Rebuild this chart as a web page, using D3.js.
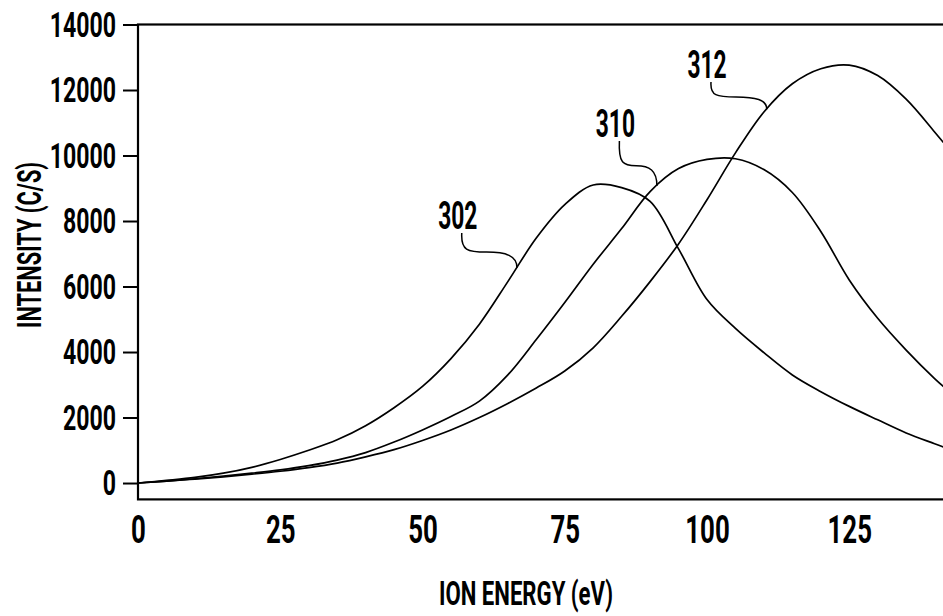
<!DOCTYPE html>
<html>
<head>
<meta charset="utf-8">
<script src="https://cdn.jsdelivr.net/npm/d3@7"></script>
<style>
  body { margin: 0; background: #fff; }
  svg { display: block; }
  text { font-family: Roboto, "DejaVu Sans", sans-serif; font-weight: 700; fill: #000; }
</style>
</head>
<body>
<svg id="chart" width="943" height="616"></svg>
<script>
// values (eV, counts/s)
const energy   = [0, 5, 10, 15, 20, 25, 30, 35, 40, 45, 50, 55, 60, 65, 70, 75, 80, 85, 90, 95, 100, 105, 110, 115, 120, 125, 130, 135, 140, 142]
const curve302 = [0, 80, 170, 300, 480, 720, 1000, 1320, 1750, 2300, 2950, 3800, 4850, 6150, 7480, 8500, 9100, 9020, 8600, 7150, 5600, 4720, 3980, 3300, 2790, 2340, 1930, 1530, 1200, 1070]
const curve310 = [0, 60, 130, 210, 300, 400, 530, 700, 930, 1250, 1620, 2030, 2500, 3300, 4380, 5510, 6680, 7770, 8900, 9600, 9880, 9900, 9570, 8870, 7680, 6200, 5030, 4060, 3190, 2880]
const curve312 = [0, 55, 120, 190, 270, 360, 470, 610, 800, 1020, 1300, 1620, 2000, 2430, 2900, 3420, 4130, 5090, 6150, 7300, 8650, 10080, 11330, 12190, 12650, 12760, 12440, 11720, 10720, 10300]

const xTicks = [0, 25, 50, 75, 100, 125]
const yTicks = [0, 2000, 4000, 6000, 8000, 10000, 12000, 14000]

// reference numerals and where their leaders meet the curves
const annLabels  = ["302", "310", "312"]
const annCurves  = [curve302, curve310, curve312]
const annTargetX = [66.6, 91.2, 110.5]
const annLabelX  = [56.2, 83.9, 100.0]
const annLabelY  = [7756, 10565, 12366]

const svg = d3.select("#chart")

const x = d3.scaleLinear().domain([0, 150]).range([138, 991.5])
const y = d3.scaleLinear().domain([-500, 14000]).range([499.4, 24.5])

// squeeze text horizontally to mimic the condensed lettering
function squeeze(sel, k) {
    sel.each(function () {
        const w = this.getComputedTextLength()
        d3.select(this).attr("textLength", w * k).attr("lengthAdjust", "spacingAndGlyphs")
    })
}

function valueAt(series, e) {
    const i = d3.bisector(d => d).right(energy, e)
    const e0 = energy[i - 1], e1 = energy[i]
    const t = (e - e0) / (e1 - e0)
    return series[i - 1] + t * (series[i] - series[i - 1])
}

// frame
svg.append("rect")
    .attr("x", x(0))
    .attr("y", y(14000))
    .attr("width", x(150) - x(0))
    .attr("height", y(-500) - y(14000))
    .attr("fill", "none")
    .attr("stroke", "#000")
    .attr("stroke-width", 2.2)

const yAxis = d3.axisLeft(y).tickValues(yTicks).tickSize(15).tickPadding(7).tickFormat(d3.format("d"))
const yAxisGroup = svg.append("g")
    .attr("transform", `translate(${x(0)},0)`)
    .call(yAxis)
yAxisGroup.select(".domain").remove()
yAxisGroup.selectAll("line").attr("stroke", "#000").attr("stroke-width", 2)
yAxisGroup.selectAll("text")
    .attr("font-size", 35)
    .attr("font-family", null)
    .attr("dy", "0.34em")
    .call(squeeze, 0.66)

const xAxis = d3.axisBottom(x).tickValues(xTicks).tickSize(0).tickFormat(d3.format("d"))
const xAxisGroup = svg.append("g")
    .attr("transform", `translate(0,${y(-500)})`)
    .call(xAxis)
xAxisGroup.select(".domain").remove()
xAxisGroup.selectAll("text")
    .attr("font-size", 38)
    .attr("font-family", null)
    .attr("y", 44)
    .attr("dy", 0)
    .call(squeeze, 0.68)

svg.append("text")
    .attr("x", 526)
    .attr("y", 605)
    .attr("text-anchor", "middle")
    .attr("font-size", 34)
    .attr("textLength", 174)
    .attr("lengthAdjust", "spacingAndGlyphs")
    .text("ION ENERGY (eV)")

svg.append("text")
    .attr("transform", "translate(41,245) rotate(-90)")
    .attr("text-anchor", "middle")
    .attr("font-size", 34)
    .attr("textLength", 166)
    .attr("lengthAdjust", "spacingAndGlyphs")
    .text("INTENSITY (C/S)")

const line = d3.line()
    .x((d, i) => x(energy[i]))
    .y(d => y(d))
    .curve(d3.curveCatmullRom.alpha(0.5))

svg.selectAll("path.curve")
    .data([curve302, curve310, curve312])
    .enter()
    .append("path")
    .attr("class", "curve")
    .attr("d", line)
    .attr("fill", "none")
    .attr("stroke", "#000")
    .attr("stroke-width", 1.7)

// leader: hooks down from the numeral, runs across, hooks down onto the curve
function leader(sx, sy, ex, ey) {
    const dx = ex - sx, dy = ey - sy
    const mx = sx + dx * 0.45, my = sy + dy * 0.55
    return `M${sx},${sy} C${sx - 1},${sy + dy * 0.5} ${sx + dx * 0.1},${my} ${mx},${my}` +
        ` C${ex - dx * 0.2},${my} ${ex},${ey - dy * 0.35} ${ex},${ey}`
}

annLabels.forEach((lab, i) => {
    const lx = x(annLabelX[i]), ly = y(annLabelY[i])
    const tx = x(annTargetX[i]), ty = y(valueAt(annCurves[i], annTargetX[i]))
    svg.append("text")
        .attr("x", lx)
        .attr("y", ly)
        .attr("text-anchor", "middle")
        .attr("font-size", 38)
        .text(lab)
        .call(squeeze, 0.6)
    svg.append("path")
        .attr("d", leader(lx + 4, ly + 4, tx, ty))
        .attr("fill", "none")
        .attr("stroke", "#000")
        .attr("stroke-width", 1.5)
})
</script>
</body>
</html>
